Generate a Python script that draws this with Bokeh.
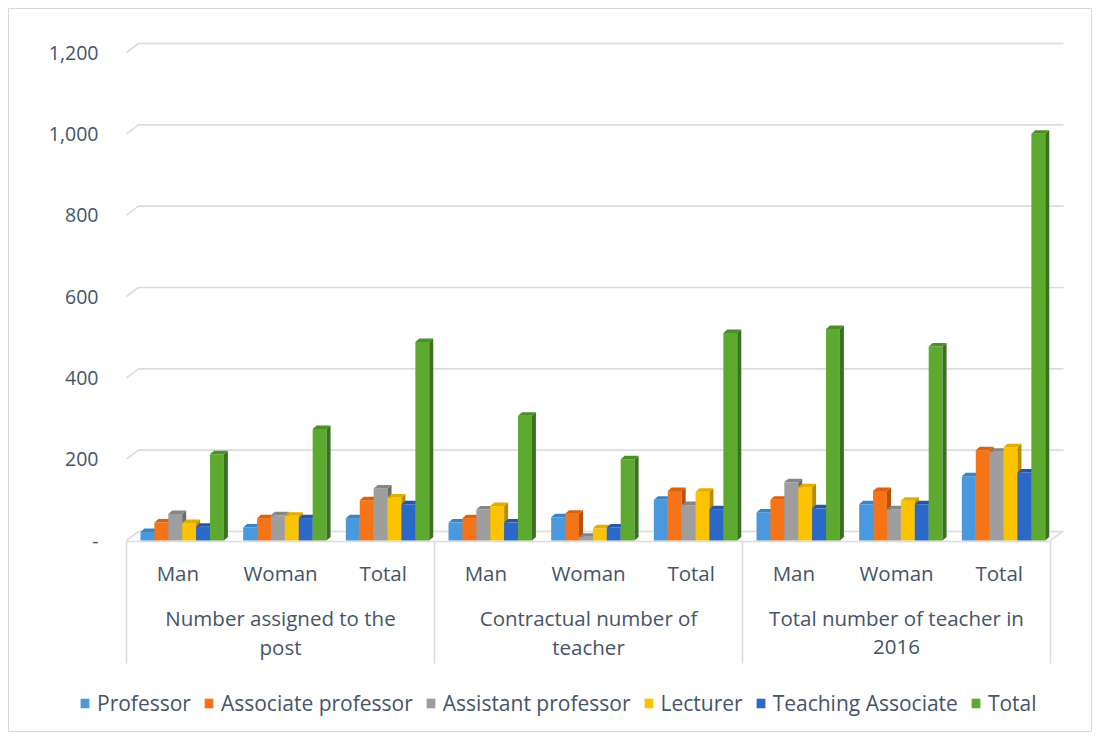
from bokeh.plotting import figure
from bokeh.models import Range1d, Legend, LegendItem
from bokeh.core.properties import value
from bokeh.embed import file_html
from bokeh.resources import INLINE

# ---------------- data ----------------
groups = ["Number assigned to the\npost", "Contractual number of\nteacher", "Total number of teacher in\n2016"]
subcats = ["Man", "Woman", "Total"]
series_names = ["Professor", "Associate professor", "Assistant professor", "Lecturer", "Teaching Associate", "Total"]
professor = [21, 32, 55, 44, 57, 100, 69, 89, 158]
associate = [44, 55, 99, 55, 66, 122, 100, 122, 222]
assistant = [65, 62, 128, 76, 9, 87, 143, 77, 218]
lecturer = [43, 61, 106, 85, 30, 120, 131, 98, 229]
teaching_assoc = [34, 55, 89, 44, 32, 77, 79, 89, 167]
total = [212, 274, 488, 307, 200, 510, 520, 477, 1000]
y_ticks = [0, 200, 400, 600, 800, 1000, 1200]

series = [professor, associate, assistant, lecturer, teaching_assoc, total]
front_cols = ["#4a98dd", "#f57418", "#9e9e9e", "#fcc400", "#2c68c8", "#5eaa31"]
side_cols = ["#2f6ea8", "#b8500c", "#6c6c6c", "#b88e00", "#1c4790", "#3b7020"]
top_cols = ["#3a84c6", "#d9620f", "#868686", "#e0ad00", "#2457aa", "#4c8f27"]

TXT = "#44546a"
GRID = "#d9dce3"
FONT = "Open Sans"

# ---------------- layout (page pixels) ----------------
PAGE_OFF = 8                    # chart box starts at page (8, 8)
W, H = 1084, 724                # chart box size
AXIS_X0 = 126                   # page x of category axis start
ZERO_Y = 540                    # page y of value 0
SLOT_PX = 102.67
PX_PER_UNIT = 488 / 1200.0

def xd(px):
    return px / SLOT_PX

def yd(px):
    return px / PX_PER_UNIT

x_min = -xd(AXIS_X0 - PAGE_OFF)
x_max = xd(PAGE_OFF + W - AXIS_X0)
y_max = yd(ZERO_Y - PAGE_OFF)
y_min = -yd(PAGE_OFF + H - ZERO_Y)

p = figure(width=W + PAGE_OFF, height=H + PAGE_OFF,
           x_range=Range1d(x_min, x_max), y_range=Range1d(y_min, y_max),
           output_backend="svg", toolbar_location=None,
           x_axis_location=None, y_axis_location=None,
           min_border_left=PAGE_OFF, min_border_top=PAGE_OFF,
           min_border_right=0, min_border_bottom=0)
p.outline_line_color = "#d9d9d9"
p.outline_line_width = 1
p.xgrid.visible = False
p.ygrid.visible = False
p.background_fill_color = "white"
p.border_fill_color = "white"

n_cat = len(groups) * len(subcats)

# value-axis labels (placed through the y scale)
p.text(x=[-xd(AXIS_X0 - 98)] * len(y_ticks), y=y_ticks,
       text=["-" if v == 0 else f"{v:,}" for v in y_ticks],
       text_align="right", text_baseline="middle",
       text_font=value(FONT), text_font_size="19.5px", text_color=TXT)

# 3D gridlines (back wall) with slanted left end
gdx, gdy = xd(12), yd(9)
x_end = xd(1063 - AXIS_X0)
p.multi_line(xs=[[0, gdx, x_end] for _ in y_ticks],
             ys=[[v, v + gdy, v + gdy] for v in y_ticks],
             line_color=GRID, line_width=1.6)
# floor front edge and right slant
p.multi_line(xs=[[0, n_cat], [n_cat, n_cat + gdx]], ys=[[-yd(1), -yd(1)], [0, gdy]],
             line_color=GRID, line_width=1.6)
# category separators
sep_x = [i * len(subcats) for i in range(len(groups) + 1)]
p.segment(x0=sep_x, y0=[-yd(1)] * len(sep_x), x1=sep_x, y1=[-yd(123)] * len(sep_x),
          line_color=GRID, line_width=1.6)

# bars (pseudo 3D)
bar_w = xd(13.9)
bar_off = xd(14)
ddx, ddy = xd(4), yd(3.5)
front_renderers = []
for i, vals in enumerate(series):
    lefts = [j + bar_off + i * bar_w for j in range(n_cat)]
    rights = [l + bar_w for l in lefts]
    fr = p.quad(left=lefts, right=rights, bottom=[0] * n_cat, top=vals,
                fill_color=front_cols[i], line_color=None)
    front_renderers.append(fr)
    side_xs = [[r, r + ddx, r + ddx, r] for r in rights]
    side_ys = [[0, ddy, v + ddy, v] for v in vals]
    p.patches(xs=side_xs, ys=side_ys, fill_color=side_cols[i], line_color=None)
    top_xs = [[l, r, r + ddx, l + ddx] for l, r in zip(lefts, rights)]
    top_ys = [[v, v, v + ddy, v + ddy] for v in vals]
    p.patches(xs=top_xs, ys=top_ys, fill_color=top_cols[i], line_color=None)

# category labels
sub_x = [j + 0.5 for j in range(n_cat)]
sub_t = [subcats[j % len(subcats)] for j in range(n_cat)]
p.text(x=sub_x, y=[-yd(32)] * n_cat, text=sub_t, text_align="center", text_baseline="middle",
       text_font=value(FONT), text_font_size="20.5px", text_color=TXT)

gx, gy, gt = [], [], []
for gi, g in enumerate(groups):
    for li, line in enumerate(g.split("\n")):
        gx.append(gi * len(subcats) + len(subcats) / 2)
        gy.append(-yd(77 + 29 * li))
        gt.append(line)
p.text(x=gx, y=gy, text=gt, text_align="center", text_baseline="middle",
       text_font=value(FONT), text_font_size="20.5px", text_color=TXT)

# legend
legend = Legend(items=[LegendItem(label=n, renderers=[r]) for n, r in zip(series_names, front_renderers)],
                orientation="horizontal", location=(79 - PAGE_OFF, 15),
                glyph_width=11, glyph_height=12, label_standoff=7, spacing=12,
                padding=0, margin=0, border_line_color=None, background_fill_alpha=0,
                label_text_font=FONT, label_text_font_size="21px", label_text_color=TXT)
p.add_layout(legend)

open("out.html", "w").write(file_html(p, INLINE))
